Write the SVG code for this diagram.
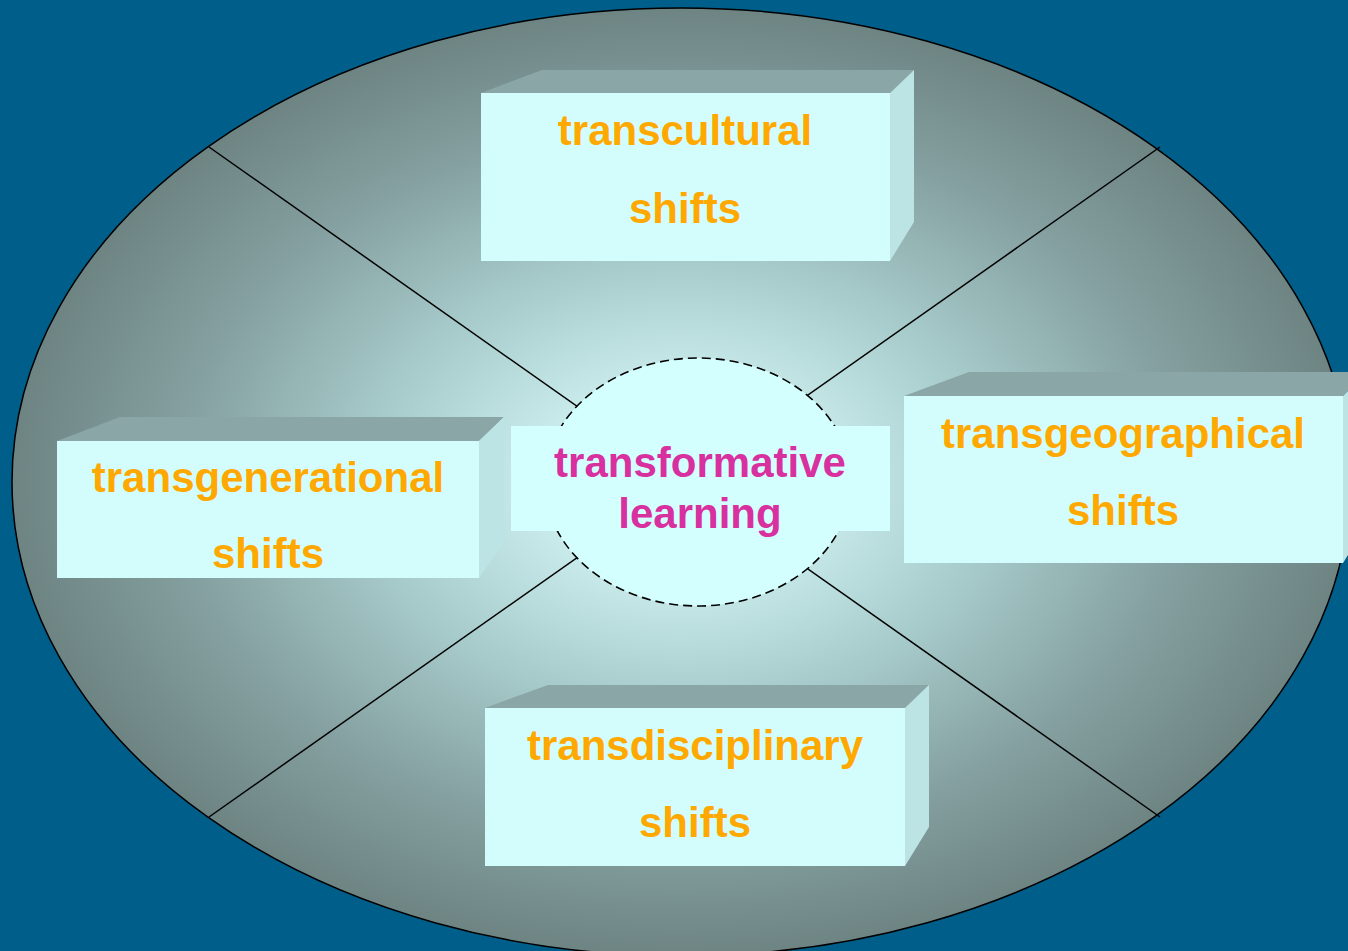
<svg xmlns="http://www.w3.org/2000/svg" width="1348" height="951" viewBox="0 0 1348 951">
  <defs>
    <radialGradient id="discFill" cx="0.5" cy="0.5" r="0.5">
      <stop offset="0" stop-color="#DAFBFB"/>
      <stop offset="0.15" stop-color="#D2F3F3"/>
      <stop offset="0.45" stop-color="#A9CDCD"/>
      <stop offset="0.75" stop-color="#85A0A0"/>
      <stop offset="1" stop-color="#6D8483"/>
    </radialGradient>
    <style>
      .front { fill: #D3FDFD; }
      .top { fill: #8BA6A6; }
      .side { fill: #BDE4E4; }
      .label { font-family: "Liberation Sans", Arial, sans-serif; font-weight: bold; font-size: 42px; fill: #FFA800; text-anchor: middle; }
      .core { font-family: "Liberation Sans", Arial, sans-serif; font-weight: bold; font-size: 42px; fill: #D8309F; text-anchor: middle; }
      .spoke { stroke: #000; stroke-width: 1.5; fill: none; }
    </style>
  </defs>

  <!-- backdrop -->
  <rect x="0" y="0" width="1348" height="951" fill="#005E8A"/>

  <!-- outer disc -->
  <ellipse cx="681" cy="482" rx="669" ry="474" fill="url(#discFill)" stroke="#000" stroke-width="1.5"/>

  <!-- spokes dividing the disc -->
  <g id="connectors">
    <line class="spoke" x1="209" y1="147" x2="1160" y2="817"/>
    <line class="spoke" x1="1160" y1="147" x2="209" y2="817"/>
  </g>

  <!-- central hub -->
  <g id="hub">
    <ellipse cx="698" cy="482" rx="153" ry="124" fill="#D4FFFF" stroke="#000" stroke-width="1.6" stroke-dasharray="9 5"/>
    <rect x="511" y="426" width="379" height="105" fill="#D4FFFF"/>
    <text class="core" x="700" y="477">transformative</text>
    <text class="core" x="700" y="528">learning</text>
  </g>

  <!-- top block -->
  <g id="transcultural">
    <polygon class="top" points="481,93 542,70 914,70 890,93"/>
    <polygon class="side" points="890,93 914,70 914,222 890,261"/>
    <rect class="front" x="481" y="93" width="409" height="168"/>
    <text class="label" x="685" y="145">transcultural</text>
    <text class="label" x="685" y="223">shifts</text>
  </g>

  <!-- left block -->
  <g id="transgenerational">
    <polygon class="top" points="57,441 120,417 504,417 479,441"/>
    <polygon class="side" points="479,441 504,417 504,543 479,578"/>
    <rect class="front" x="57" y="441" width="422" height="137"/>
    <text class="label" x="268" y="492">transgenerational</text>
    <text class="label" x="268" y="568">shifts</text>
  </g>

  <!-- right block -->
  <g id="transgeographical">
    <polygon class="top" points="904,396 969,372 1367,372 1343,396"/>
    <polygon class="side" points="1343,396 1367,372 1367,525 1343,563"/>
    <rect class="front" x="904" y="396" width="439" height="167"/>
    <text class="label" x="1123" y="448">transgeographical</text>
    <text class="label" x="1123" y="525">shifts</text>
  </g>

  <!-- bottom block -->
  <g id="transdisciplinary">
    <polygon class="top" points="485,708 548,685 929,685 905,708"/>
    <polygon class="side" points="905,708 929,685 929,827 905,866"/>
    <rect class="front" x="485" y="708" width="420" height="158"/>
    <text class="label" x="695" y="760">transdisciplinary</text>
    <text class="label" x="695" y="837">shifts</text>
  </g>
</svg>
